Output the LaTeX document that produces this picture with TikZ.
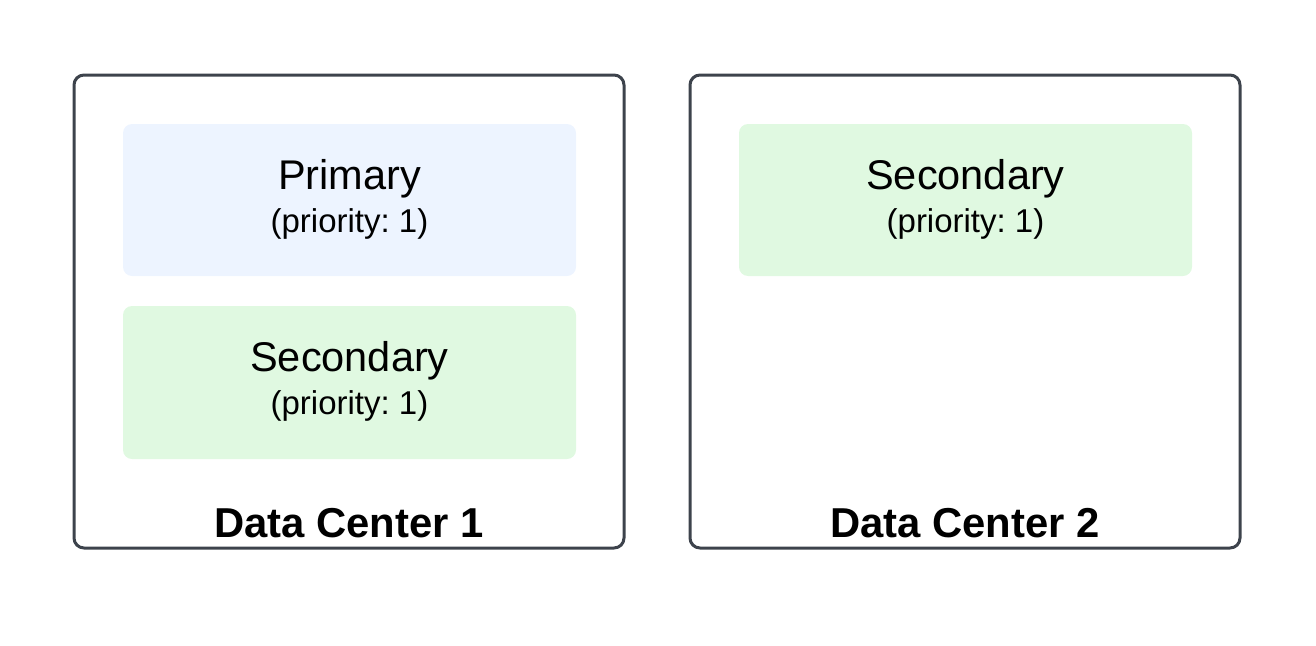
\documentclass[tikz,border=0pt]{standalone}
\usepackage{fontspec}
\setmainfont{Liberation Sans}
\frenchspacing
\definecolor{frame}{HTML}{3D434C}
\definecolor{bluefill}{HTML}{EDF4FF}
\definecolor{greenfill}{HTML}{E0F9E1}
\begin{document}
\begin{tikzpicture}[x=1pt,y=-1pt,
  dcbox/.style={draw=frame,line width=3pt,rounded corners=10pt},
  role/.style={rounded corners=9pt},
  lbl/.style={align=center,inner sep=0pt,anchor=base,font=\fontsize{41.5}{48}\selectfont},
  sub/.style={align=center,inner sep=0pt,anchor=base,font=\fontsize{33}{40}\selectfont},
  title/.style={inner sep=0pt,anchor=base,font=\fontsize{41.8}{48}\selectfont\bfseries}]
\useasboundingbox (0,0) rectangle (1316,645);
\draw[dcbox] (74,75) rectangle (624,548);
\draw[dcbox] (690,75) rectangle (1240,548);
\fill[role,fill=bluefill] (123,124) rectangle (576,276);
\fill[role,fill=greenfill] (123,306) rectangle (576,459);
\fill[role,fill=greenfill] (739,124) rectangle (1192,276);
\node[lbl] (p1) at (349.5,189) {Primary};
\node[sub] (p1b) at (349.5,232) {(priority: 1)};
\node[lbl] (s1) at (349.5,371) {Secondary};
\node[sub] (s1b) at (349.5,414.5) {(priority: 1)};
\node[lbl] (s2) at (965.5,189) {Secondary};
\node[sub] (s2b) at (965.5,232) {(priority: 1)};
\node[title] (t1) at (349,537) {Data Center 1};
\node[title] (t2) at (965,537) {Data Center 2};
\end{tikzpicture}
\end{document}
